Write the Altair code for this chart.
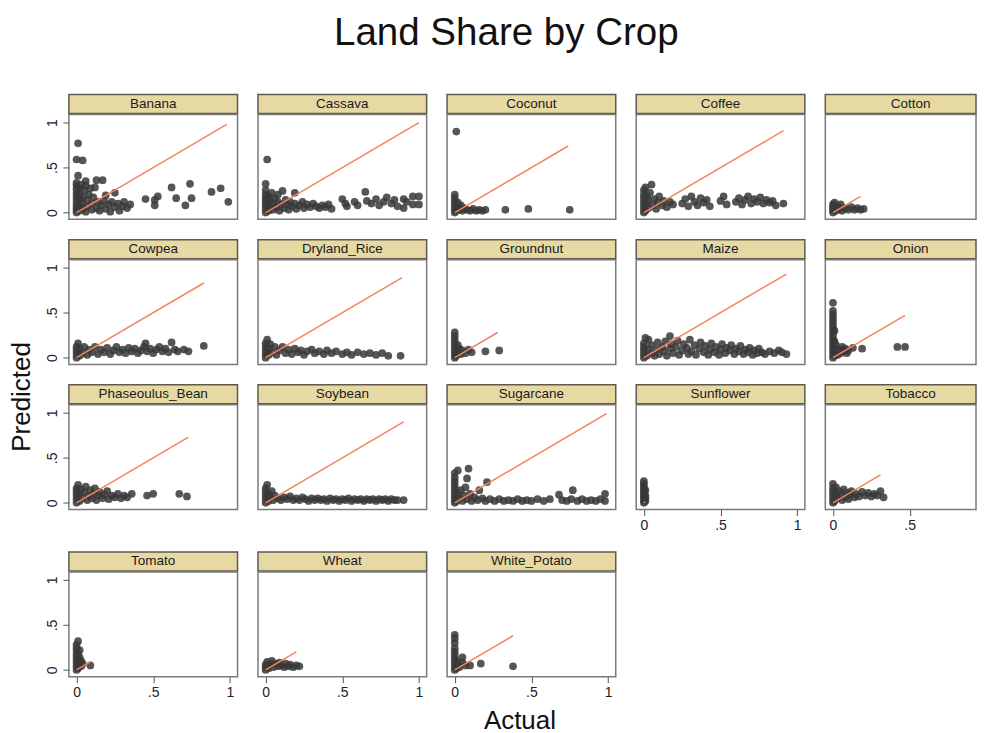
import altair as alt
import pandas as pd

CROPS = ["Banana", "Cassava", "Coconut", "Coffee", "Cotton",
         "Cowpea", "Dryland_Rice", "Groundnut", "Maize", "Onion",
         "Phaseoulus_Bean", "Soybean", "Sugarcane", "Sunflower", "Tobacco",
         "Tomato", "Wheat", "White_Potato"]

# end of the 45-degree reference line (max actual share) per crop
LINE_END = [0.98, 1.0, 0.74, 0.91, 0.18,
            0.83, 0.89, 0.28, 0.93, 0.47,
            0.73, 0.90, 0.99, 0.01, 0.31,
            0.09, 0.20, 0.38]

# (actual, predicted) points
banana = [(0,0),(0,0.03),(0,0.06),(0,0.1),(0,0.14),(0,0.18),(0,0.22),(0,0.26),(0,0.3),(0,0.33),
          (0.01,0.77),(0,0.59),(0.04,0.58),(0.01,0.41),
          (0.02,0.02),(0.02,0.08),(0.02,0.15),(0.02,0.2),(0.02,0.27),(0.03,0.31),
          (0.04,0.04),(0.04,0.1),(0.04,0.17),(0.05,0.24),(0.06,0.35),(0.06,0.3),
          (0.06,0.01),(0.07,0.07),(0.07,0.14),(0.08,0.2),(0.09,0.27),
          (0.1,0.03),(0.1,0.1),(0.11,0.17),(0.12,0.28),(0.13,0.36),(0.17,0.36),
          (0.13,0.05),(0.14,0.12),(0.15,0.02),(0.16,0.08),(0.18,0.13),(0.19,0.19),(0.19,0.04),
          (0.21,0.09),(0.22,0.01),(0.23,0.12),(0.25,0.22),(0.25,0.06),(0.27,0.1),(0.28,0.02),
          (0.3,0.07),(0.31,0.12),(0.33,0.05),(0.35,0.09),
          (0.45,0.15),(0.51,0.08),(0.51,0.14),(0.53,0.18),(0.62,0.28),(0.65,0.16),(0.71,0.08),
          (0.74,0.32),(0.75,0.16),(0.88,0.23),(0.94,0.27),(0.99,0.12)]
cassava = [(0,0),(0,0.04),(0,0.08),(0,0.12),(0,0.16),(0,0.2),(0,0.25),(0,0.32),(0.01,0.59),
           (0.02,0.02),(0.02,0.1),(0.02,0.18),(0.03,0.06),(0.03,0.14),(0.04,0.22),
           (0.05,0.03),(0.05,0.1),(0.06,0.16),(0.07,0.06),(0.08,0.12),(0.08,0.2),(0.09,0.02),
           (0.1,0.09),(0.11,0.24),(0.12,0.05),(0.13,0.14),(0.14,0.09),(0.15,0.03),(0.16,0.12),
           (0.17,0.07),(0.19,0.22),(0.19,0.1),
           (0.2,0.04),(0.22,0.08),(0.24,0.12),(0.25,0.05),(0.27,0.09),(0.29,0.06),(0.31,0.1),
           (0.33,0.07),(0.35,0.05),(0.37,0.08),(0.39,0.06),(0.41,0.09),(0.43,0.04),
           (0.5,0.15),(0.52,0.1),(0.53,0.07),(0.58,0.12),(0.6,0.08),(0.65,0.23),(0.66,0.13),
           (0.69,0.1),(0.72,0.15),(0.74,0.08),(0.77,0.12),(0.79,0.17),(0.82,0.1),(0.84,0.14),
           (0.86,0.07),(0.9,0.15),(0.9,0.05),(0.92,0.12),(0.96,0.18),(0.96,0.09),(1.0,0.18),(1.0,0.09)]
coconut = [(0.01,0.9),(0,0),(0,0.04),(0,0.08),(0,0.12),(0,0.16),(0,0.2),(0.01,0.02),(0.02,0.06),
           (0.02,0.11),(0.03,0.03),(0.04,0.08),(0.05,0.02),(0.06,0.05),(0.08,0.03),(0.1,0.02),
           (0.12,0.04),(0.14,0.02),(0.16,0.03),(0.18,0.02),(0.2,0.03),(0.33,0.03),(0.48,0.04),(0.75,0.03)]
coffee = [(0,0),(0,0.04),(0,0.08),(0,0.12),(0,0.16),(0,0.2),(0,0.25),(0.01,0.28),(0.05,0.31),
          (0.01,0.02),(0.02,0.1),(0.02,0.18),(0.03,0.05),(0.03,0.14),(0.04,0.22),
          (0.06,0.08),(0.07,0.15),(0.08,0.04),(0.09,0.11),(0.1,0.18),(0.12,0.08),(0.13,0.13),
          (0.15,0.06),(0.17,0.12),(0.19,0.09),
          (0.25,0.1),(0.27,0.15),(0.29,0.07),(0.31,0.18),(0.33,0.12),(0.35,0.08),(0.37,0.16),
          (0.39,0.11),(0.41,0.14),(0.43,0.07),
          (0.5,0.13),(0.52,0.18),(0.54,0.09),
          (0.6,0.12),(0.62,0.16),(0.64,0.09),(0.66,0.14),(0.68,0.18),(0.7,0.1),(0.72,0.15),
          (0.74,0.12),(0.76,0.17),(0.78,0.1),(0.8,0.14),(0.82,0.11),(0.84,0.13),(0.86,0.08),(0.91,0.1)]
cotton = [(0,0),(0,0.03),(0,0.06),(0,0.09),(0.01,0.11),(0.02,0.02),(0.03,0.07),(0.04,0.04),
          (0.05,0.09),(0.06,0.02),(0.08,0.05),(0.1,0.03),(0.12,0.06),(0.14,0.03),(0.16,0.05),
          (0.18,0.03),(0.2,0.04)]
cowpea = [(0,0),(0,0.04),(0,0.08),(0,0.12),(0.01,0.16),(0.02,0.02),(0.02,0.1),(0.04,0.05),
          (0.05,0.12),(0.07,0.03),(0.08,0.09),(0.1,0.06),(0.12,0.12),(0.14,0.04),(0.16,0.09),
          (0.18,0.06),(0.2,0.11),(0.22,0.04),(0.24,0.08),(0.26,0.12),(0.28,0.06),(0.3,0.09),
          (0.32,0.05),(0.34,0.11),(0.36,0.07),(0.38,0.1),(0.4,0.05),(0.42,0.08),(0.44,0.12),
          (0.46,0.07),(0.48,0.1),(0.5,0.05),(0.52,0.09),(0.54,0.12),(0.56,0.07),(0.58,0.1),
          (0.6,0.06),(0.62,0.17),(0.64,0.09),(0.66,0.07),(0.7,0.09),(0.73,0.07),(0.83,0.13),(0.45,0.16)]
dryland_rice = [(0,0),(0,0.04),(0,0.08),(0,0.12),(0,0.16),(0.01,0.2),(0.02,0.03),(0.02,0.1),
                (0.03,0.15),(0.04,0.06),(0.06,0.12),(0.07,0.03),(0.09,0.08),(0.11,0.12),(0.13,0.05),
                (0.15,0.09),(0.17,0.04),(0.19,0.1),(0.21,0.06),(0.23,0.08),(0.25,0.03),(0.27,0.07),
                (0.3,0.09),(0.32,0.05),(0.35,0.07),(0.38,0.04),(0.4,0.08),(0.43,0.05),(0.46,0.07),
                (0.5,0.04),(0.53,0.06),(0.56,0.03),(0.6,0.06),(0.64,0.04),(0.68,0.05),(0.72,0.03),
                (0.76,0.05),(0.8,0.02),(0.88,0.02)]
groundnut = [(0,0),(0,0.04),(0,0.08),(0,0.12),(0,0.16),(0,0.2),(0,0.24),(0,0.28),(0.01,0.02),
             (0.02,0.06),(0.02,0.14),(0.03,0.1),(0.04,0.04),(0.05,0.08),(0.07,0.05),(0.09,0.09),
             (0.11,0.06),(0.2,0.07),(0.29,0.08)]
maize = [(0,0),(0,0.04),(0,0.08),(0,0.12),(0,0.16),(0.01,0.22),(0.03,0.2),(0.17,0.24),
         (0.02,0.02),(0.03,0.1),(0.05,0.05),(0.05,0.14),(0.07,0.02),(0.08,0.09),(0.09,0.17),
         (0.1,0.04),(0.12,0.12),(0.13,0.07),(0.14,0.18),(0.15,0.02),(0.17,0.1),(0.18,0.15),
         (0.19,0.05),(0.21,0.12),(0.22,0.19),(0.23,0.03),(0.25,0.08),(0.26,0.15),(0.28,0.11),
         (0.29,0.04),(0.3,0.2),(0.31,0.07),(0.33,0.14),(0.34,0.03),(0.36,0.1),(0.37,0.17),
         (0.39,0.06),(0.4,0.13),(0.42,0.03),(0.43,0.09),(0.44,0.16),(0.46,0.06),(0.47,0.12),
         (0.49,0.03),(0.5,0.09),(0.51,0.15),(0.53,0.05),(0.54,0.11),(0.56,0.08),(0.57,0.14),
         (0.59,0.04),(0.6,0.1),(0.62,0.07),(0.63,0.13),(0.65,0.04),(0.66,0.09),(0.68,0.06),
         (0.69,0.11),(0.71,0.03),(0.72,0.08),(0.74,0.05),(0.75,0.1),(0.77,0.06),(0.79,0.04),
         (0.82,0.07),(0.85,0.05),(0.88,0.08),(0.9,0.06),(0.93,0.04)]
onion = [(0,0),(0,0.04),(0,0.08),(0,0.12),(0,0.16),(0,0.2),(0,0.24),(0,0.28),(0,0.32),(0,0.36),
         (0,0.4),(0,0.44),(0,0.48),(0,0.52),(0,0.61),(0.01,0.02),(0.01,0.1),(0.01,0.18),(0.01,0.3),
         (0.02,0.06),(0.02,0.14),(0.03,0.03),(0.04,0.09),(0.05,0.05),(0.06,0.12),(0.07,0.07),
         (0.08,0.1),(0.09,0.05),(0.1,0.08),(0.13,0.11),(0.19,0.1),(0.42,0.12),(0.47,0.12)]
phaseoulus_bean = [(0,0),(0,0.04),(0,0.08),(0,0.12),(0,0.16),(0.01,0.2),(0.02,0.02),(0.02,0.1),
                   (0.03,0.15),(0.04,0.05),(0.05,0.12),(0.06,0.18),(0.07,0.03),(0.08,0.08),
                   (0.09,0.14),(0.1,0.05),(0.11,0.1),(0.12,0.16),(0.13,0.03),(0.14,0.08),(0.15,0.12),
                   (0.17,0.05),(0.18,0.09),(0.2,0.13),(0.21,0.04),(0.23,0.08),(0.25,0.06),(0.27,0.1),
                   (0.29,0.05),(0.31,0.08),(0.33,0.06),(0.36,0.1),(0.46,0.08),(0.5,0.1),(0.67,0.1),(0.72,0.07)]
soybean = [(0,0),(0,0.04),(0,0.08),(0,0.12),(0,0.16),(0.01,0.2),(0.02,0.02),(0.02,0.1),(0.03,0.06),
           (0.04,0.13),(0.05,0.03),(0.06,0.08),(0.08,0.05),(0.1,0.03),(0.12,0.06),(0.14,0.04),
           (0.16,0.07),(0.18,0.03),(0.2,0.05),(0.22,0.03),(0.24,0.06),(0.26,0.04),(0.28,0.02),
           (0.3,0.05),(0.32,0.03),(0.34,0.05),(0.36,0.03),(0.38,0.04),(0.4,0.02),(0.42,0.05),
           (0.44,0.03),(0.46,0.04),(0.48,0.02),(0.5,0.04),(0.52,0.03),(0.54,0.05),(0.56,0.02),
           (0.58,0.04),(0.6,0.03),(0.62,0.04),(0.64,0.02),(0.66,0.04),(0.68,0.03),(0.7,0.04),
           (0.72,0.02),(0.74,0.04),(0.76,0.03),(0.78,0.04),(0.8,0.02),(0.82,0.04),(0.84,0.03),
           (0.86,0.03),(0.9,0.03)]
sugarcane = [(0,0),(0,0.04),(0,0.08),(0,0.12),(0,0.16),(0,0.2),(0,0.24),(0,0.28),(0,0.33),
             (0.02,0.36),(0.09,0.38),(0.08,0.27),(0.07,0.17),(0.21,0.23),(0.16,0.14),(0.01,0.02),
             (0.02,0.1),(0.03,0.05),(0.04,0.14),(0.05,0.02),(0.06,0.08),(0.08,0.04),(0.1,0.1),
             (0.11,0.02),(0.13,0.06),(0.15,0.03),(0.18,0.05),(0.2,0.02),(0.23,0.04),(0.26,0.02),
             (0.29,0.04),(0.32,0.02),(0.35,0.03),(0.38,0.02),(0.41,0.04),(0.44,0.02),(0.47,0.03),
             (0.5,0.02),(0.54,0.04),(0.58,0.02),(0.62,0.04),(0.68,0.09),(0.7,0.03),(0.73,0.02),
             (0.77,0.14),(0.76,0.04),(0.8,0.02),(0.83,0.04),(0.86,0.02),(0.89,0.03),(0.92,0.02),
             (0.95,0.04),(0.98,0.1),(0.98,0.02)]
sunflower = [(0,0),(0,0.03),(0,0.06),(0,0.09),(0,0.12),(0,0.15),(0,0.18),(0,0.21),(0,0.24),
             (0.01,0.02),(0.01,0.08),(0.01,0.14),(0.01,0.05)]
tobacco = [(0,0),(0,0.04),(0,0.08),(0,0.12),(0,0.16),(0,0.21),(0.01,0.02),(0.02,0.1),(0.02,0.17),
           (0.03,0.05),(0.04,0.13),(0.05,0.08),(0.06,0.03),(0.07,0.15),(0.08,0.06),(0.09,0.11),
           (0.1,0.04),(0.11,0.09),(0.12,0.13),(0.14,0.06),(0.15,0.1),(0.17,0.07),(0.19,0.12),
           (0.21,0.08),(0.23,0.11),(0.25,0.07),(0.27,0.1),(0.29,0.08),(0.31,0.13),(0.33,0.06)]
tomato = [(0,0),(0,0.04),(0,0.08),(0,0.12),(0,0.16),(0,0.2),(0,0.24),(0,0.28),(0.01,0.32),
          (0.01,0.02),(0.01,0.1),(0.01,0.18),(0.02,0.06),(0.02,0.14),(0.02,0.22),(0.03,0.04),
          (0.03,0.1),(0.04,0.07),(0.09,0.05)]
wheat = [(0,0),(0,0.03),(0,0.06),(0.01,0.09),(0.02,0.02),(0.03,0.06),(0.04,0.1),(0.05,0.03),
         (0.06,0.07),(0.08,0.04),(0.09,0.08),(0.1,0.05),(0.12,0.03),(0.13,0.07),(0.15,0.04),
         (0.16,0.06),(0.18,0.03),(0.2,0.05),(0.22,0.04)]
white_potato = [(0,0),(0,0.04),(0,0.08),(0,0.12),(0,0.16),(0,0.2),(0,0.24),(0,0.3),(0,0.35),(0,0.39),
                (0.01,0.02),(0.01,0.1),(0.02,0.06),(0.03,0.03),(0.05,0.14),(0.05,0.08),(0.07,0.05),
                (0.1,0.05),(0.17,0.07),(0.38,0.04)]

POINTS = [banana, cassava, coconut, coffee, cotton,
          cowpea, dryland_rice, groundnut, maize, onion,
          phaseoulus_bean, soybean, sugarcane, sunflower, tobacco,
          tomato, wheat, white_potato]

TICKS = [0, 0.5, 1]
TICKS_CUT = [0, 0.5]      # last column runs off the right edge of the page

FONT = "Liberation Sans"
W, H, HH = 169, 105, 19
W_LAST = 151              # last column is cut by the page edge, as in the picture
X_MAX_LAST = -0.05 + W_LAST * 1.1 / W
LBL = "datum.value == 0.5 ? '.5' : (datum.value == 1 ? '1' : '0')"
yscale = alt.Scale(domain=[-0.075, 1.09], nice=False, zero=False)


def axis(values, angle=0):
    kw = dict(values=values, labelExpr=LBL, title=None, grid=False, domain=False,
              tickSize=6, tickColor="#555555", tickWidth=1, labelFontSize=14,
              labelPadding=3, labelColor="#222222", labelFont=FONT)
    if angle:
        kw.update(labelAngle=angle, labelAlign="center", labelBaseline="bottom")
    return alt.Axis(**kw)


def panel(i, show_x, show_y, last):
    df = pd.DataFrame(POINTS[i], columns=["actual", "pred"])
    e = LINE_END[i]
    ldf = pd.DataFrame({"actual": [0.0, e], "pred": [0.0, e]})
    w = W_LAST if last else W
    xscale = alt.Scale(domain=[-0.05, X_MAX_LAST if last else 1.05], nice=False, zero=False)
    xenc = alt.X("actual:Q", scale=xscale,
                 axis=axis(TICKS_CUT if last else TICKS) if show_x else None)
    yenc = alt.Y("pred:Q", scale=yscale, axis=axis(TICKS, 270) if show_y else None)
    pts = alt.Chart(df).mark_circle(size=60, color="#383838", opacity=0.85).encode(x=xenc, y=yenc)
    line = alt.Chart(ldf).mark_line(color="#f4845f", strokeWidth=1.5).encode(x=xenc, y=yenc)
    plot = alt.layer(pts, line).properties(
        width=w, height=H,
        view=alt.ViewBackground(fill="white", stroke="#7a7a7a", strokeWidth=1.5))
    head = alt.Chart(pd.DataFrame({"crop": [CROPS[i]]})).mark_text(
        font=FONT, fontSize=13.5, color="#1a1a1a", dx=(W - w) / 2 + 1 if last else 0
    ).encode(text="crop:N").properties(
        width=w, height=HH,
        view=alt.ViewBackground(fill="#e6d9a4", stroke="#5f5a4a", strokeWidth=1.5))
    return alt.vconcat(head, plot, spacing=-1.5)


rows_idx = [[0, 1, 2, 3, 4], [5, 6, 7, 8, 9], [10, 11, 12, 13, 14], [15, 16, 17]]
rows = []
for r, idxs in enumerate(rows_idx):
    panels = []
    for c, i in enumerate(idxs):
        show_x = (r == 3) or (r == 2 and c >= 3)
        panels.append(panel(i, show_x, c == 0, c == 4))
    rows.append(alt.hconcat(*panels, spacing=18.5))

grid = alt.vconcat(alt.vconcat(rows[0], rows[1], rows[2], spacing=18.4), rows[3], spacing=17.3)

ylab = alt.Chart(pd.DataFrame({"t": ["Predicted"]})).mark_text(
    font=FONT, fontSize=26, angle=270, color="#111111").encode(text="t:N").properties(
    width=28, height=606, view=alt.ViewBackground(strokeWidth=0))

xlab = alt.Chart(pd.DataFrame({"t": ["Actual"]})).mark_text(
    font=FONT, fontSize=26, color="#111111", dx=33).encode(text="t:N").properties(
    width=960, height=30, view=alt.ViewBackground(strokeWidth=0))

chart = alt.vconcat(
    alt.hconcat(ylab, grid, spacing=9),
    xlab,
    spacing=5,
).properties(
    padding={"top": 5, "left": 0, "right": 0, "bottom": 0},
    title=alt.Title("Land Share by Crop", fontSize=38.6, font=FONT, fontWeight="normal",
                    color="#111111", anchor="middle", offset=40.5, dx=14),
).configure_view(strokeWidth=0)

chart.save("out.html", embed_options={"renderer": "svg", "actions": False})
